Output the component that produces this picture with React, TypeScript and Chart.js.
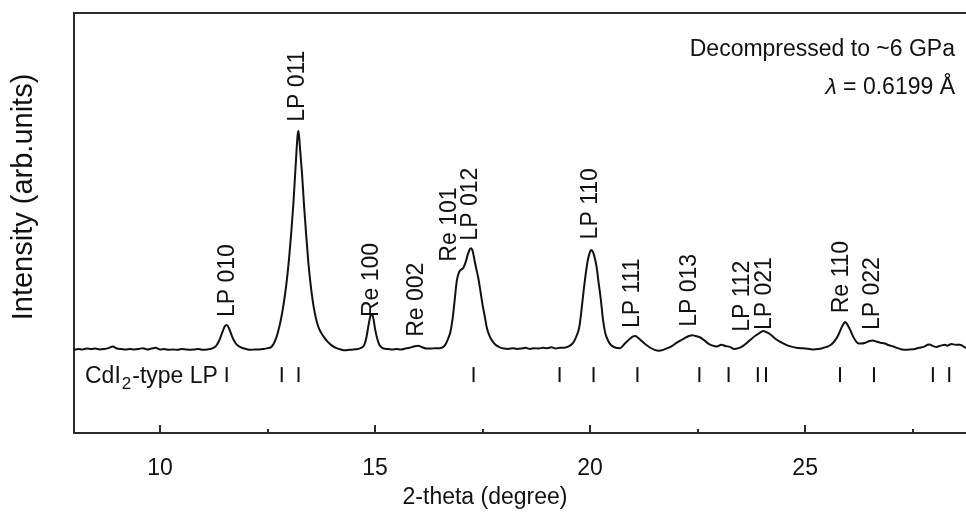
import React, { useEffect, useRef } from 'react';
import { Chart, registerables } from 'chart.js';

Chart.register(...registerables);

// ---- Data ----
const twoTheta = [
  8.0, 8.1, 8.2, 8.3, 8.4, 8.5, 8.6, 8.7, 8.8, 8.9, 9.0, 9.1, 9.2, 9.3, 9.4, 9.5, 9.6, 9.7, 9.8, 9.9,
  10.0, 10.1, 10.2, 10.3, 10.4, 10.5, 10.6, 10.7, 10.8, 10.9, 11.0, 11.1, 11.2,
  11.3, 11.35, 11.4, 11.45, 11.5, 11.55, 11.6, 11.65, 11.7, 11.75, 11.8, 11.9, 12.0, 12.1, 12.2, 12.3, 12.4,
  12.5, 12.6, 12.7, 12.8, 12.85, 12.9, 12.95, 13.0, 13.05, 13.1, 13.15, 13.2, 13.22, 13.25, 13.3, 13.35,
  13.4, 13.45, 13.5, 13.55, 13.6, 13.65, 13.7, 13.8, 13.9, 14.0, 14.1, 14.2, 14.3, 14.4, 14.5, 14.6, 14.7,
  14.75, 14.8, 14.85, 14.9, 14.93, 14.97, 15.0, 15.05, 15.1, 15.15, 15.2, 15.3, 15.4, 15.5, 15.6, 15.7,
  15.8, 15.9, 16.0, 16.1, 16.2, 16.3, 16.4, 16.5, 16.6,
  16.65, 16.7, 16.75, 16.8, 16.85, 16.9, 16.95, 17.0, 17.05, 17.1, 17.15, 17.2, 17.23, 17.27, 17.3, 17.35,
  17.4, 17.45, 17.5, 17.55, 17.6, 17.65, 17.7, 17.8, 17.9, 18.0, 18.1, 18.2, 18.3, 18.4, 18.5, 18.6, 18.7,
  18.8, 18.9, 19.0, 19.1, 19.2, 19.3, 19.4, 19.5,
  19.6, 19.65, 19.7, 19.75, 19.8, 19.85, 19.9, 19.95, 20.0, 20.03, 20.07, 20.1, 20.15, 20.2, 20.25, 20.3,
  20.35, 20.4, 20.45, 20.5, 20.6, 20.7,
  20.8, 20.9, 21.0, 21.05, 21.1, 21.2, 21.3, 21.4, 21.5, 21.6, 21.7, 21.8, 21.9, 22.0, 22.1, 22.2, 22.3,
  22.37, 22.45, 22.55, 22.65, 22.75, 22.85, 22.95, 23.05, 23.15, 23.25, 23.35, 23.45, 23.55, 23.65, 23.75,
  23.85, 23.95, 24.03, 24.1, 24.2, 24.3, 24.4, 24.5, 24.6, 24.7, 24.8, 24.9, 25.0, 25.1, 25.2, 25.3, 25.4,
  25.5, 25.6, 25.65, 25.7, 25.75, 25.8, 25.85, 25.9, 25.93, 25.97, 26.0, 26.05, 26.1, 26.15, 26.2, 26.25,
  26.3, 26.4, 26.5, 26.57, 26.65, 26.75, 26.85, 26.95, 27.05, 27.15, 27.25, 27.35, 27.45, 27.55, 27.65,
  27.75, 27.85, 27.9, 27.95, 28.05, 28.15, 28.25, 28.3, 28.4, 28.5, 28.6, 28.65, 28.74,
];

const intensity = [
  19.8, 20.0, 19.9, 20.1, 20.0, 20.1, 19.9, 20.0, 20.2, 20.6, 20.1, 20.0, 19.9, 20.0, 19.9, 20.0, 20.2, 19.9, 20.1, 20.3,
  19.9, 20.0, 19.8, 19.9, 19.8, 20.0, 19.9, 19.8, 19.9, 20.0, 19.8, 19.9, 20.1,
  20.7, 21.5, 22.6, 24.0, 25.3, 25.7, 25.0, 23.7, 22.4, 21.5, 20.9, 20.3, 20.0, 19.8, 19.9, 19.9, 20.0,
  20.2, 20.6, 22.6, 26.5, 29.2, 32.5, 36.5, 41.5, 47.5, 54.5, 63.0, 71.0, 71.9, 68.5, 62.0, 54.0,
  47.0, 40.5, 35.5, 31.5, 28.5, 26.3, 24.8, 23.0, 21.7, 20.8, 20.2, 19.9, 19.7, 19.8, 19.9, 20.0, 20.4,
  21.0, 22.8, 25.8, 28.1, 28.3, 26.8, 24.8, 22.5, 21.0, 20.4, 20.1, 20.0, 19.9, 20.0, 19.9, 20.1,
  20.3, 20.6, 20.8, 20.4, 20.1, 20.1, 20.2, 20.2, 20.6,
  21.3, 22.5, 24.0, 27.0, 31.5, 36.2, 38.2, 38.9, 39.3, 40.5, 42.3, 43.7, 44.0, 43.3, 41.8, 39.3,
  36.9, 33.8, 30.5, 27.8, 25.0, 23.4, 22.3, 21.0, 20.4, 20.1, 20.0, 20.2, 20.0, 20.1, 20.3, 20.0, 20.2,
  20.1, 20.3, 20.2, 20.4, 20.1, 20.3, 20.3, 20.6,
  21.4, 22.3, 23.5, 25.3, 29.3, 33.9, 38.0, 41.3, 43.2, 43.6, 43.0, 42.0, 39.6, 35.6, 31.7, 27.0,
  23.9, 22.4, 21.4, 20.8, 20.3, 20.2,
  21.2, 22.2, 23.0, 23.1, 22.8, 21.9, 21.0, 20.3, 19.8, 19.6, 19.8, 20.2, 20.7, 21.4, 22.0, 22.6, 23.1,
  23.3, 23.1, 22.8, 22.1, 21.3, 20.8, 20.6, 21.0, 20.7, 20.5, 20.0, 20.2, 20.7, 21.5, 22.4,
  23.2, 23.9, 24.3, 24.0, 23.4, 22.5, 21.8, 21.3, 20.8, 20.5, 20.3, 20.2, 20.1, 20.0, 19.9, 20.0, 20.2,
  20.5, 21.0, 21.5, 22.1, 22.9, 24.0, 25.2, 26.1, 26.4, 26.0, 25.5, 24.5, 23.3, 22.3, 21.6, 21.3,
  21.3, 21.5, 21.9, 22.0, 21.8, 21.5, 21.3, 20.9, 20.6, 20.2, 19.9, 19.8, 19.9, 20.0, 20.3,
  20.5, 21.0, 21.1, 20.8, 20.5, 20.8, 21.0, 20.8, 21.2, 21.0, 21.0, 20.8, 20.2,
];

// CdI2-type LP reflection positions (tick marks)
const lpReflections = [11.55, 12.83, 13.22, 17.29, 19.29, 20.08, 21.1, 22.54, 23.22, 23.9, 24.09, 25.81, 26.6, 27.97, 28.35];
const lpTickLevel = 13.9;

// Peak labels: text, 2-theta, intensity at which the (rotated) text starts
const peakLabels = ['LP 010', 'LP 011', 'Re 100', 'Re 002', 'Re 101', 'LP 012', 'LP 110', 'LP 111', 'LP 013', 'LP 112', 'LP 021', 'Re 110', 'LP 022'];
const peakLabelTheta = [11.57, 13.2, 14.91, 15.97, 16.73, 17.23, 20.02, 21.0, 22.31, 23.55, 24.05, 25.86, 26.57];
const peakLabelIntensity = [27.6, 74.1, 27.6, 22.9, 40.8, 45.8, 46.1, 25.0, 25.3, 24.1, 24.5, 28.5, 24.5];

const xTickValues = [10, 12.5, 15, 17.5, 20, 22.5, 25, 27.5];

const xTitle = '2-theta (degree)';
const yTitle = 'Intensity (arb.units)';
const noteLine1 = 'Decompressed to ~6 GPa';
const noteLambda = 'λ';
const noteLine2 = '= 0.6199 Å';

const FONT = '"Liberation Sans", Arial, Helvetica, sans-serif';
const INK = '#111111';
const FRAME = '#2a2a2a';

const annotationPlugin = {
  id: 'xrdAnnotations',
  afterDraw(chart: any) {
    const { ctx, chartArea, scales } = chart;
    const xs = scales.x;
    const ys = scales.y;
    ctx.save();

    // top frame line
    ctx.strokeStyle = FRAME;
    ctx.lineWidth = 2;
    ctx.beginPath();
    ctx.moveTo(chartArea.left - 1, chartArea.top);
    ctx.lineTo(chartArea.right, chartArea.top);
    ctx.stroke();

    // inward ticks on the bottom axis
    xTickValues.forEach((v) => {
      const px = Math.round(xs.getPixelForValue(v));
      const len = v % 5 === 0 ? 8 : 4;
      ctx.beginPath();
      ctx.moveTo(px, chartArea.bottom);
      ctx.lineTo(px, chartArea.bottom - len);
      ctx.stroke();
    });

    ctx.fillStyle = INK;

    // x-axis title (centred where the reference has it)
    ctx.font = `23px ${FONT}`;
    ctx.textAlign = 'center';
    ctx.textBaseline = 'middle';
    ctx.fillText(xTitle, 485, 498);

    // y-axis title (placed as in the reference, slightly above the axis centre)
    ctx.font = `29px ${FONT}`;
    ctx.save();
    ctx.translate(24, 197);
    ctx.rotate(-Math.PI / 2);
    ctx.fillText(yTitle, 0, 0);
    ctx.restore();

    // rotated peak labels
    ctx.font = `23px ${FONT}`;
    ctx.textAlign = 'left';
    ctx.textBaseline = 'middle';
    peakLabels.forEach((t, i) => {
      const px = xs.getPixelForValue(peakLabelTheta[i]);
      const py = ys.getPixelForValue(peakLabelIntensity[i]);
      ctx.save();
      ctx.translate(px, py);
      ctx.rotate(-Math.PI / 2);
      ctx.fillText(t, 0, 0);
      ctx.restore();
    });

    // CdI2-type LP label
    ctx.textBaseline = 'alphabetic';
    ctx.textAlign = 'left';
    let cx = chartArea.left + 11;
    const cy = chartArea.bottom - 50;
    ctx.font = `23px ${FONT}`;
    ctx.fillText('CdI', cx, cy);
    cx += ctx.measureText('CdI').width + 1;
    ctx.font = `17px ${FONT}`;
    ctx.fillText('2', cx, cy + 6);
    cx += ctx.measureText('2').width + 1;
    ctx.font = `23px ${FONT}`;
    ctx.fillText('-type LP', cx, cy);

    // top-right notes
    const rx = chartArea.right - 11;
    ctx.textAlign = 'right';
    ctx.font = `23px ${FONT}`;
    ctx.fillText(noteLine1, rx, chartArea.top + 43);
    ctx.fillText(noteLine2, rx, chartArea.top + 81);
    const w2 = ctx.measureText(noteLine2).width;
    const sp = ctx.measureText(' ').width;
    ctx.font = `italic 23px ${FONT}`;
    ctx.fillText(noteLambda, rx - w2 - sp, chartArea.top + 81);

    ctx.restore();
  },
};

export default function App() {
  const canvasRef = useRef<HTMLCanvasElement | null>(null);

  useEffect(() => {
    const canvas = canvasRef.current;
    if (!canvas) return;
    const chart = new Chart(canvas, {
      type: 'line',
      data: {
        datasets: [
          {
            type: 'line',
            label: 'pattern',
            data: twoTheta.map((t, i) => ({ x: t, y: intensity[i] })),
            borderColor: INK,
            borderWidth: 2,
            pointRadius: 0,
            cubicInterpolationMode: 'monotone',
            fill: false,
          },
          {
            type: 'scatter',
            label: 'CdI2-type LP',
            data: lpReflections.map((t) => ({ x: t, y: lpTickLevel })),
            pointStyle: 'line',
            pointRotation: 90,
            pointRadius: 7.5,
            pointBorderWidth: 2,
            pointBorderColor: INK,
            pointBackgroundColor: INK,
            showLine: false,
          },
        ] as any,
      },
      options: {
        responsive: false,
        animation: false,
        devicePixelRatio: 1,
        layout: { autoPadding: false, padding: { top: 13, left: 0, right: 0, bottom: 0 } },
        plugins: {
          legend: { display: false },
          tooltip: { enabled: false },
        },
        scales: {
          x: {
            type: 'linear',
            min: 8,
            max: 28.74,
            afterBuildTicks: (s: any) => {
              s.ticks = xTickValues.map((v) => ({ value: v }));
            },
            afterFit: (s: any) => {
              s.height = 79;
            },
            ticks: {
              autoSkip: false,
              maxRotation: 0,
              padding: 22,
              color: INK,
              font: { family: FONT, size: 23 },
              callback: (v: any) => (Number(v) % 5 === 0 ? String(v) : ''),
            },
            grid: { display: true, drawOnChartArea: false, drawTicks: false },
            border: { display: true, color: FRAME, width: 2 },
            title: { display: false, text: xTitle },
          },
          y: {
            type: 'linear',
            min: 0,
            max: 100,
            afterFit: (s: any) => {
              s.width = 74;
            },
            ticks: { display: false },
            grid: { display: true, drawOnChartArea: false, drawTicks: false },
            border: { display: true, color: FRAME, width: 2 },
            title: { display: false, text: yTitle },
          },
        },
      } as any,
      plugins: [annotationPlugin],
    });
    return () => chart.destroy();
  }, []);

  return (
    <div style={{ position: 'absolute', left: 0, top: 0, width: 966, height: 512, background: '#ffffff' }}>
      <canvas ref={canvasRef} width={966} height={512} />
    </div>
  );
}
